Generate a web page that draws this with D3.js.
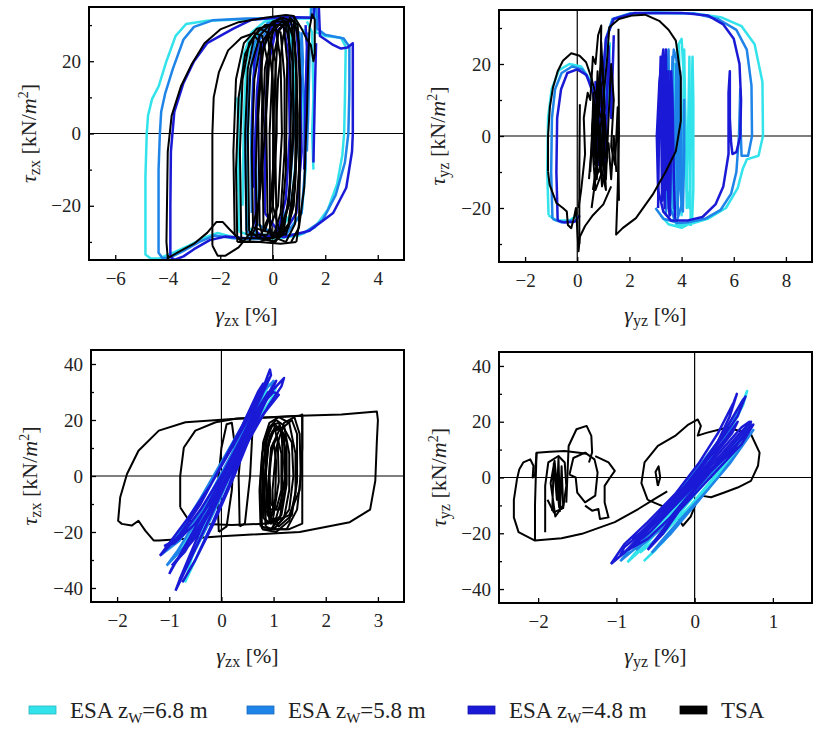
<!DOCTYPE html>
<html>
<head>
<meta charset="utf-8">
<script src="https://cdnjs.cloudflare.com/ajax/libs/d3/7.8.5/d3.min.js"></script>
<style>
  body { margin: 0; background: #fff; }
  text { font-family: "Liberation Serif", "Times New Roman", serif; }
</style>
</head>
<body>
<svg id="chart" width="815" height="732"></svg>
<script>
// ---------- data (strain %, stress kN/m2) ----------
var seriesNames = ["ESA 6.8", "ESA 5.8", "ESA 4.8", "TSA"];
var seriesColors = ["#33e3ec", "#1f84e8", "#1a1ad6", "#000000"];
var legendDepths = ["6.8", "5.8", "4.8"];

var xTicksTopZx = [-6, -4, -2, 0, 2, 4];
var xTicksTopYz = [-2, 0, 2, 4, 6, 8];
var xTicksBotZx = [-2, -1, 0, 1, 2, 3];
var xTicksBotYz = [-2, -1, 0, 1];
var yTicksTop = [-30, -20, -10, 0, 10, 20, 30];
var yTicksBot = [-40, -30, -20, -10, 0, 10, 20, 30, 40];

// top left: tau_zx vs gamma_zx
var topZxCyan = [
  [[0.2,-29],[1.0,-28.2],[1.6,-26],[2.1,-21],[2.45,-14],[2.65,-6],[2.72,0],[2.75,10],[2.78,24],[2.6,26.5],[2.0,27],[1.65,28],[1.6,36],[1.45,36],[1.45,31.8],[0.5,31.8],[-1,31.6],[-2.5,31.2],[-3.3,30.3],[-3.7,27],[-4.05,20],[-4.35,13],[-4.6,9.5],[-4.75,5],[-4.8,0],[-4.85,-12],[-4.85,-33.5],[-4.65,-34.6],[-4.3,-34.5],[-3.8,-33],[-3.2,-31],[-2.6,-28.8],[-2.1,-27.5],[-1.6,-28.5],[-1,-29.2],[0.2,-29]],
  [[-1.3,-27],[-1.3,-10],[-1.25,8],[-1.1,22],[-0.8,28],[-0.3,31],[0.3,31.5],[0.9,31],[1.1,20],[1.2,0],[1.25,-10],[1.1,-22],[0.6,-27],[-0.2,-28.5],[-0.8,-28.5],[-1.3,-27]],
  [[-0.95,-26],[-0.95,-5],[-0.9,15],[-0.6,27],[0,31],[0.6,31],[0.8,20],[0.9,-5],[0.7,-22],[0.2,-28],[-0.5,-28],[-0.95,-26]],
  [[1.55,-10],[1.5,0],[1.55,10],[1.5,28],[1.3,31]],
  [[-1.35,-16],[-1.3,0],[-1.35,10]],
  [[1.25,-5],[1.3,10],[1.35,24],[1.2,29]],
  [[-1.15,-20],[-1.1,5],[-1.0,20],[-0.75,27]]
];
var topZxMid = [
  [[0.2,-28.5],[1.2,-27.5],[1.9,-24],[2.4,-17],[2.75,-8],[2.88,0],[2.92,12],[2.92,24],[2.7,26.3],[2.0,27.3],[1.7,29],[1.65,36],[1.5,36],[1.45,32],[0.5,32],[-1,31.8],[-2.3,31.3],[-3.0,29.5],[-3.4,26],[-3.8,18],[-4.1,11],[-4.25,6],[-4.3,0],[-4.35,-10],[-4.35,-33],[-4.2,-34.5],[-3.9,-34.3],[-3.4,-32.5],[-2.8,-30],[-2.2,-28.2],[-1.5,-29],[-0.5,-29.2],[0.2,-28.5]],
  [[-1.0,-27],[-1.05,-5],[-0.95,12],[-0.7,25],[-0.2,30.5],[0.5,31.5],[1.0,28],[1.2,10],[1.25,-8],[1.1,-22],[0.5,-28],[-0.4,-28.8],[-1.0,-27]],
  [[-0.6,-25],[-0.65,0],[-0.5,20],[-0.1,29],[0.5,31],[0.75,20],[0.8,0],[0.6,-20],[0.1,-28],[-0.6,-25]],
  [[1.3,-5],[1.35,5],[1.4,22],[1.35,28]],
  [[-0.8,-22],[-0.82,0],[-0.75,15],[-0.5,26],[0,30]],
  [[1.0,-15],[1.05,5],[1.15,20],[1.1,28]]
];
var topZxDark = [
  [[0.2,-28],[0.4,-28.7],[1.4,-26.9],[2.3,-22],[2.8,-15],[3.02,-5],[3.05,0],[3.05,25],[2.85,23.8],[2.6,23.5],[2.3,24.5],[2.0,26],[1.8,27],[1.75,36],[1.6,36],[1.55,32],[0.5,32.2],[-0.8,31.5],[-1.5,29],[-2.5,25],[-3.0,20],[-3.4,14],[-3.75,6],[-3.88,-5],[-3.9,-20],[-3.9,-34],[-3.75,-35],[-3.4,-34],[-3.0,-32],[-2.4,-29.5],[-1.8,-28.5],[-1,-29],[0.2,-28]],
  [[-0.65,-27],[-0.68,-5],[-0.6,12],[-0.4,25],[0,30],[0.5,31.5],[0.9,29],[1.05,15],[1.1,-5],[0.9,-22],[0.4,-28],[-0.3,-29],[-0.65,-27]],
  [[-0.3,-22],[-0.3,0],[-0.2,18],[0.1,28],[0.4,30],[0.6,22],[0.65,0],[0.5,-18],[0.2,-27],[-0.3,-22]],
  [[1.55,-8],[1.6,10],[1.65,25]],
  [[-0.75,-15],[-0.78,5],[-0.7,20],[-0.5,27]],
  [[1.2,-10],[1.25,10],[1.3,24],[1.25,30]]
];
var topZxTsa = [
  [[0.9,-30],[0.3,-30.5],[-0.5,-30],[-1.2,-29.8],[-1.65,-26.5],[-1.9,-24.5],[-2.15,-24.5],[-2.5,-27.5],[-3.0,-30.5],[-3.6,-32.8],[-4.0,-34.5],[-4.05,-30],[-4.0,-5],[-3.85,5],[-3.5,13],[-3.1,19],[-2.6,25],[-2.0,28.8],[-1.3,30.8],[-0.3,32],[0.5,32.8],[0.8,32.5],[1.0,25],[1.05,0],[1.0,-25],[0.9,-30]],
  [[-2.3,-31],[-2.3,0],[-2.25,10],[-2.05,17],[-1.7,23],[-1.2,26.5],[-0.7,27.8],[-0.4,27],[-0.2,20],[-0.3,0],[-0.5,-18],[-0.8,-27],[-1.3,-31.5],[-1.8,-33.8],[-2.1,-33.8],[-2.3,-31]],
  [[-1.45,-28],[-1.5,-5],[-1.4,15],[-1.1,25],[-0.6,29],[0,30],[0.5,30],[0.75,20],[0.8,0],[0.6,-20],[0.2,-28],[-0.5,-30],[-1.1,-30],[-1.45,-28]],
  [[-0.9,-27],[-0.95,0],[-0.85,18],[-0.5,27],[0,31],[0.4,32],[0.8,31],[0.9,15],[0.85,-10],[0.6,-25],[0.1,-30],[-0.5,-29],[-0.9,-27]],
  [[-0.5,-25],[-0.55,5],[-0.4,22],[-0.1,30],[0.3,32],[0.6,30],[0.7,10],[0.65,-15],[0.4,-28],[0,-30],[-0.4,-28],[-0.5,-25]],
  [[-0.2,-22],[-0.25,5],[-0.1,25],[0.1,31],[0.4,31],[0.55,20],[0.5,-10],[0.3,-28],[0,-29],[-0.2,-22]],
  [[0.0,-20],[0.05,10],[0.2,28],[0.5,31],[0.75,28],[0.8,5],[0.6,-20],[0.3,-28],[0.0,-20]],
  [[-0.75,-26],[-0.8,-5],[-0.7,15],[-0.45,25],[-0.15,28],[0.1,20],[0.15,0],[0,-20],[-0.3,-27],[-0.75,-26]],
  [[-1.2,-29],[-1.25,-5],[-1.15,15],[-0.9,25],[-0.5,29],[-0.2,28],[0,15],[0.05,-5],[-0.1,-22],[-0.5,-29],[-1.2,-29]],
  [[-1.0,-28],[-1.05,0],[-0.95,18],[-0.7,27],[-0.3,30],[0.1,30],[0.3,20],[0.35,0],[0.2,-20],[-0.2,-28],[-1.0,-28]],
  [[-0.35,-27],[-0.4,-2],[-0.3,18],[0,28],[0.35,31],[0.7,31],[0.9,20],[0.95,0],[0.8,-20],[0.5,-28],[-0.35,-27]],
  [[-0.1,-28],[-0.12,0],[0,20],[0.25,29],[0.55,31],[0.85,25],[0.95,5],[0.85,-15],[0.6,-26],[0.2,-29],[-0.1,-28]],
  [[-0.6,-29],[-0.65,-10],[-0.55,10],[-0.35,24],[0,29],[0.3,28],[0.45,15],[0.45,-5],[0.3,-22],[0,-29],[-0.6,-29]],
  [[0.15,-29],[0.1,-5],[0.2,15],[0.4,27],[0.65,32],[0.95,30],[1.05,15],[1.0,-10],[0.85,-25],[0.5,-30],[0.15,-29]],
  [[-1.35,-30],[-1.4,-10],[-1.3,10],[-1.05,22],[-0.7,27],[-0.45,25],[-0.4,10],[-0.45,-10],[-0.6,-25],[-0.9,-30],[-1.35,-30]],
  [[0.8,32.5],[1.1,29],[1.3,26],[1.45,24.5],[1.55,20],[1.6,22],[1.6,31.5],[1.5,33],[1.4,29],[1.35,20],[1.3,5],[1.25,-3.8],[1.2,-15],[1.0,-26],[0.7,-30]]
];

// top right: tau_yz vs gamma_yz
var topYzCyan = [
  [[-1.1,-22],[-1.15,-10],[-1.12,5],[-0.98,13],[-0.7,18.3],[-0.3,20],[0.15,19.3],[0.5,15.5],[0.7,10],[0.8,0],[0.85,-8],[0.95,5],[1.05,20],[1.15,28],[1.4,32.5],[2,34],[3,34.3],[4.5,34],[5.5,33],[6.3,30.5],[6.8,25.5],[7.1,15],[7.12,0],[6.95,-5.5],[6.5,-6.5],[6.35,-9],[6.15,-14.5],[5.7,-20],[5.0,-23],[4.3,-24.5],[3.8,-24.8],[3.65,-20],[3.6,-5],[3.7,10],[3.85,25],[4.0,27],[4.1,15],[4.15,0],[4.2,-15],[4.3,-20],[4.35,-5],[4.4,15],[4.42,22],[4.45,10],[4.45,-15],[4.4,-24],[4.0,-25.5],[3.5,-24.5],[3.2,-22]],
  [[-1.1,-22],[-0.8,-23.5],[-0.3,-23.5],[0,-22]],
  [[3.7,-24],[3.75,20],[3.8,-20],[3.9,25],[4.0,-22],[4.1,24],[4.2,-20],[4.3,22],[4.35,-25]],
  [[0.7,-5],[0.8,12],[0.9,-3],[1.05,18],[1.15,5],[1.25,26]]
];
var topYzMid = [
  [[-0.95,-23],[-1.0,-10],[-0.97,5],[-0.85,13],[-0.6,17.5],[-0.2,19.3],[0.2,18.5],[0.5,15],[0.7,9],[0.8,-2],[0.9,6],[1.0,18],[1.1,27],[1.35,32.5],[2,34],[3,34.2],[4.5,34],[5.4,32.5],[6.1,29.5],[6.5,24],[6.68,14],[6.7,0],[6.55,-5.5],[6.3,-5.5],[6.25,5],[6.25,13],[6.2,0],[6.1,-10],[5.9,-16],[5.5,-20.5],[4.9,-23],[4.2,-24],[3.8,-24.2],[3.55,-20],[3.5,-5],[3.6,10],[3.7,24],[3.85,20],[3.9,0],[3.95,-15],[4.05,-21],[4.1,-5],[4.1,10],[4.05,-18],[3.8,-24],[3.3,-23],[3.0,-20]],
  [[-0.95,-23],[-0.6,-24],[-0.2,-23.5]],
  [[3.4,-22],[3.45,15],[3.5,24],[3.55,-18],[3.65,22],[3.7,-20],[3.8,20],[3.85,-22],[3.95,18],[4.0,-20]],
  [[0.65,-8],[0.75,10],[0.85,-5],[1.0,20],[1.1,2],[1.2,24]]
];
var topYzDark = [
  [[-0.75,-23.5],[-0.8,-10],[-0.77,5],[-0.62,13],[-0.38,17.5],[0,18.5],[0.35,17],[0.6,12],[0.75,5],[0.85,-5],[0.9,5],[1.0,17],[1.1,27],[1.4,32.5],[2.2,34.2],[4,34.2],[5,33.5],[5.6,31],[6.0,27],[6.22,20],[6.28,10],[6.25,0],[6.1,-4.5],[5.95,-5],[5.9,-2],[5.85,5],[5.85,18],[5.8,12],[5.8,-5],[5.6,-14],[5.3,-19],[4.8,-22.5],[4.2,-23.5],[3.6,-23.5],[3.3,-21],[3.1,-15],[3.05,0],[3.15,15],[3.3,24],[3.4,15],[3.45,-5],[3.5,-20],[3.55,-22],[3.6,0],[3.6,18],[3.65,10],[3.7,-10],[3.75,-23]],
  [[-0.75,-23.5],[-0.5,-24],[-0.1,-23.8],[0.1,-22]],
  [[3.1,-20],[3.15,10],[3.2,22],[3.25,-18],[3.3,20],[3.35,-20],[3.4,24],[3.45,-15],[3.5,18],[3.55,-22],[3.6,15]],
  [[0.6,-5],[0.7,15],[0.8,-8],[0.95,20],[1.05,-10],[1.2,25],[1.3,5],[1.4,28]]
];
var topYzTsa = [
  [[0.6,-15],[0.8,-5],[1.0,10],[1.15,22],[1.23,30.2],[1.6,32.5],[2.12,33.5],[2.6,33.7],[3.14,32],[3.5,29.5],[3.78,26.5],[3.97,16.3],[3.97,4.2],[3.78,-4.2],[3.4,-9.8],[2.89,-16.3],[2.25,-22.8],[1.74,-25.6],[1.49,-27.4],[1.55,-15],[1.6,0],[1.58,29.8]],
  [[-1.12,-9.8],[-1.12,0],[-1.05,8],[-0.93,13.5],[-0.75,18],[-0.55,20.9],[-0.23,23],[0.09,22.3],[0.34,20.5],[0.55,16],[0.75,10],[0.9,5]],
  [[-1.12,-9.8],[-1.06,-13.5],[-0.8,-18.6],[-0.55,-20],[-0.4,-21],[-0.36,-24.7],[-0.23,-25.6],[-0.12,-22.5],[-0.05,-20],[0.05,-32],[0.1,-28],[0.3,-25],[0.6,-22],[1.0,-19],[1.3,-14]],
  [[0.05,-20],[0.15,-15],[0.3,-5],[0.25,5],[0.4,12],[0.5,10],[0.6,22],[0.7,20],[0.8,28],[0.92,30.7],[0.9,20],[0.8,5],[0.95,-10],[0.7,-15],[0.6,-5],[0.75,10],[0.9,15],[1.0,0],[1.1,-15],[0.9,-8],[0.7,-12],[0.55,-20]],
  [[0.5,-10],[0.6,5],[0.7,-8],[0.8,12],[0.95,22],[1.05,8],[0.9,-5],[1.1,-12],[1.2,5],[1.3,20],[1.4,10],[1.3,-3],[1.45,-8],[1.55,8],[1.6,-18]],
  [[0.7,-2],[0.75,-12],[0.85,3],[1.0,-8],[1.05,6],[1.15,-6],[0.95,-14],[0.85,-4],[0.65,-8]],
  [[0.55,0],[0.65,8],[0.72,-4],[0.8,6],[0.88,-10],[0.98,2],[1.08,-6],[1.2,-2],[1.3,-12],[1.4,0],[1.5,-10]],
  [[0.45,-12],[0.55,-3],[0.62,12],[0.7,3],[0.78,18],[0.85,8],[0.92,26],[1.0,14]],
  [[0.08,-30],[0.08,-10],[0.1,8.8]]
];

// bottom left: tau_zx vs gamma_zx
var botZxCyan = [
  [[-0.7,-38],[-0.55,-32],[-0.3,-22],[0,-10],[0.3,4],[0.6,18],[0.8,28],[0.9,33],[0.85,30],[0.6,20],[0.3,8],[0,-5],[-0.3,-17],[-0.55,-28],[-0.7,-38]],
  [[-0.95,-30],[-0.7,-24],[-0.4,-14],[0,0],[0.35,12],[0.7,24],[1.05,32],[1.0,29],[0.7,20],[0.35,8],[0,-4],[-0.4,-17],[-0.75,-26],[-0.95,-30]]
];
var botZxMid = [
  [[-1.05,-32],[-0.85,-27],[-0.55,-18],[-0.2,-6],[0.2,8],[0.5,20],[0.8,30],[1.0,34],[0.95,31],[0.7,23],[0.4,12],[0,-2],[-0.35,-14],[-0.7,-25],[-1.05,-32]],
  [[-0.8,-37],[-0.6,-30],[-0.3,-19],[0,-7],[0.3,6],[0.6,20],[0.85,32],[0.8,30],[0.5,17],[0.2,3],[-0.1,-10],[-0.45,-24],[-0.8,-37]],
  [[-1.15,-28],[-0.8,-20],[-0.4,-8],[0,5],[0.4,18],[0.75,30],[0.9,35],[0.8,31],[0.45,17],[0.05,2],[-0.35,-11],[-0.8,-23],[-1.15,-28]]
];
var botZxDark = [
  [[-0.88,-41],[-0.75,-36],[-0.5,-26],[-0.2,-14],[0.1,-2],[0.4,12],[0.65,25],[0.85,34],[0.93,38],[0.95,36],[0.8,30],[0.6,22],[0.3,10],[0,-2],[-0.3,-15],[-0.6,-28],[-0.8,-37],[-0.88,-41]],
  [[-1.0,-35],[-0.85,-30],[-0.55,-20],[-0.2,-8],[0.2,6],[0.55,18],[0.85,28],[1.1,33],[1.2,35],[1.15,32],[0.9,25],[0.5,12],[0.1,-2],[-0.3,-14],[-0.7,-26],[-0.95,-33],[-1.0,-35]],
  [[-1.18,-28.5],[-1.0,-24],[-0.6,-14],[-0.2,-3],[0.2,10],[0.5,20],[0.75,30],[0.8,33],[0.7,30],[0.4,18],[0,4],[-0.4,-10],[-0.8,-21],[-1.1,-27],[-1.18,-28.5]],
  [[-1.1,-25],[-0.8,-22],[-0.4,-12],[0,0],[0.4,14],[0.7,24],[1.0,30],[1.1,29],[0.8,22],[0.4,10],[0,-4],[-0.5,-17],[-0.9,-24],[-1.1,-25]],
  [[-0.75,-38],[-0.5,-30],[-0.2,-18],[0.15,-3],[0.45,12],[0.7,24],[0.9,30],[0.85,27],[0.55,14],[0.2,-2],[-0.15,-17],[-0.5,-30],[-0.75,-38]],
  [[-0.95,-32],[-0.7,-27],[-0.35,-16],[0.05,-2],[0.35,10],[0.65,22],[1.05,34],[0.95,30],[0.6,18],[0.25,5],[-0.1,-9],[-0.5,-22],[-0.95,-32]]
];
var botZxTsa = [
  [[0.0,-21.5],[-0.6,-22.3],[-1.2,-23],[-1.3,-23],[-1.46,-19.5],[-1.59,-16],[-1.72,-17.7],[-1.91,-17.1],[-1.98,-16],[-1.94,-7.6],[-1.81,0.7],[-1.59,9],[-1.2,16.2],[-0.69,19.2],[0.21,20.4],[1.5,21.5],[2.3,22],[2.98,23],[3.0,20],[2.98,12.6],[2.95,-1.7],[2.85,-12],[2.46,-16.5],[1.5,-20],[0.0,-21.5]],
  [[-0.79,-11.2],[-0.79,0],[-0.72,10.2],[-0.5,16.2],[-0.11,19.2],[0.3,20.5],[1.0,21],[1.55,21.5],[1.55,10],[1.5,-5],[1.3,-14],[0.9,-17],[0.2,-17.5],[-0.3,-17.1],[-0.62,-16],[-0.79,-11.2]],
  [[-0.05,-20],[-0.08,-5],[0,10],[0.1,18.5],[0.2,19],[0.25,12],[0.2,-5],[0.1,-18],[-0.05,-20]],
  [[0.35,-18],[0.33,0],[0.4,15],[0.5,20],[0.6,18],[0.55,0],[0.45,-17],[0.35,-18]],
  [[0.75,-18],[0.73,-5],[0.78,8],[0.9,17],[1.05,20],[1.2,18],[1.3,8],[1.3,-5],[1.2,-15],[1.0,-19],[0.75,-18]],
  [[0.8,-15],[0.78,0],[0.85,12],[0.95,18],[1.1,19],[1.25,12],[1.25,-3],[1.15,-14],[0.95,-17],[0.8,-15]],
  [[0.9,-12],[0.85,2],[0.92,14],[1.05,18],[1.2,15],[1.22,0],[1.12,-12],[0.9,-12]],
  [[0.95,-16],[0.9,-3],[0.95,10],[1.1,16],[1.35,20],[1.45,15],[1.45,-2],[1.35,-14],[1.1,-18],[0.95,-16]],
  [[0.85,-17],[0.82,-3],[0.88,10],[1.0,16],[1.15,17],[1.18,5],[1.15,-8],[1.05,-15],[0.85,-17]],
  [[0.78,-19],[0.75,-2],[0.8,12],[0.92,19],[1.1,21],[1.3,19],[1.42,8],[1.42,-6],[1.3,-16],[1.05,-20],[0.78,-19]],
  [[0.85,-18],[0.82,-6],[0.86,8],[0.98,16],[1.12,18],[1.22,10],[1.22,-4],[1.12,-15],[0.95,-19],[0.85,-18]],
  [[0.95,-10],[0.92,0],[0.97,10],[1.07,14],[1.15,8],[1.15,-5],[1.05,-12],[0.95,-10]],
  [[0.88,-14],[0.85,0],[0.9,12],[1.02,17],[1.2,17],[1.35,12],[1.38,0],[1.3,-12],[1.1,-17],[0.88,-14]],
  [[1.0,-19],[0.98,-5],[1.05,10],[1.2,19],[1.4,21],[1.5,15],[1.52,0],[1.45,-12],[1.25,-19],[1.0,-19]],
  [[0.8,-12],[0.8,3],[0.88,14],[1.0,19],[1.08,12],[1.1,-2],[1.0,-14],[0.8,-12]],
  [[0.92,-17],[0.9,-8],[0.93,5],[1.0,12],[1.05,5],[1.03,-8],[0.92,-17]],
  [[0.8,-19],[1.3,-19],[1.55,-17],[1.55,22],[1.5,21.5]]
];

// bottom right: tau_yz vs gamma_yz
var botYzCyan = [
  [[-0.86,-30.4],[-0.65,-25],[-0.35,-15],[0,-3],[0.3,10],[0.55,22],[0.67,31],[0.62,26],[0.4,14],[0.1,2],[-0.2,-9],[-0.55,-20],[-0.86,-30.4]],
  [[-0.7,-27],[-0.4,-20],[-0.05,-8],[0.3,4],[0.6,14],[0.72,18],[0.65,14],[0.3,2],[-0.05,-10],[-0.4,-20],[-0.7,-27]],
  [[-0.65,-30],[-0.4,-23],[-0.1,-12],[0.2,-2],[0.5,8],[0.7,16],[0.65,14],[0.4,4],[0.1,-6],[-0.2,-16],[-0.5,-26],[-0.65,-30]]
];
var botYzMid = [
  [[-0.95,-30],[-0.7,-24],[-0.4,-14],[-0.05,-3],[0.3,10],[0.5,20],[0.62,28],[0.55,24],[0.3,13],[0,2],[-0.35,-10],[-0.7,-21],[-0.95,-30]],
  [[-0.75,-26],[-0.45,-19],[-0.1,-7],[0.25,4],[0.55,13],[0.72,19],[0.65,15],[0.35,6],[0,-5],[-0.35,-16],[-0.75,-26]],
  [[-0.55,-27],[-0.3,-20],[0,-10],[0.3,0],[0.55,9],[0.75,17],[0.7,15],[0.45,5],[0.15,-5],[-0.15,-14],[-0.4,-22],[-0.55,-27]]
];
var botYzDark = [
  [[-1.07,-31],[-0.9,-27],[-0.6,-18],[-0.3,-8],[0,0],[0.25,10],[0.45,22],[0.54,30],[0.5,27],[0.3,16],[0.05,5],[-0.25,-6],[-0.6,-16],[-0.9,-24],[-1.07,-31]],
  [[-0.95,-28],[-0.7,-22],[-0.35,-12],[0,-2],[0.3,7],[0.55,15],[0.72,20],[0.68,16],[0.4,8],[0.1,0],[-0.25,-10],[-0.6,-18],[-0.9,-25],[-0.95,-28]],
  [[-0.8,-22],[-0.5,-16],[-0.2,-6],[0.1,5],[0.35,15],[0.6,27],[0.65,29],[0.55,22],[0.25,10],[-0.05,-2],[-0.35,-12],[-0.65,-20],[-0.8,-22]],
  [[-0.6,-26],[-0.4,-20],[-0.1,-8],[0.2,2],[0.5,10],[0.7,18],[0.75,19],[0.6,12],[0.3,3],[0,-6],[-0.3,-15],[-0.55,-24],[-0.6,-26]],
  [[-0.85,-26],[-0.55,-19],[-0.25,-10],[0.05,0],[0.35,10],[0.6,18],[0.7,20],[0.62,16],[0.3,6],[0,-4],[-0.3,-14],[-0.6,-22],[-0.85,-26]],
  [[-0.7,-20],[-0.45,-13],[-0.15,-4],[0.15,6],[0.4,14],[0.55,20],[0.48,16],[0.2,6],[-0.1,-4],[-0.4,-14],[-0.7,-20]]
];
var botYzTsa = [
  // outer left lobe and the long tail towards the origin
  [[-2.27,-0.6],[-2.31,-8],[-2.31,-14.3],[-2.25,-19.6],[-2.04,-22.6],[-1.7,-21.8],[-1.44,-20.2],[-1.02,-16],[-0.72,-11.3],[-0.51,-7.7],[-0.35,-5]],
  [[-2.27,-0.6],[-2.24,3],[-2.19,5.4],[-2.1,6.5],[-2.06,4.2],[-2.07,0],[-2.04,1],[-2.02,8.9],[-1.85,9.2],[-1.66,9.5],[-1.5,9],[-1.38,8.5]],
  [[-2.04,-22.6],[-2.04,-10],[-2.03,0],[-2.02,8.9]],
  [[-1.91,-19.6],[-1.91,-3],[-1.87,5.4],[-1.74,7.7],[-1.66,5.4],[-1.64,-3],[-1.68,-11],[-1.8,-12.5],[-1.88,-8]],
  [[-1.64,-9],[-1.61,11.3],[-1.51,17.3],[-1.38,18.5],[-1.32,14.9],[-1.31,9],[-1.35,5.4]],
  [[-1.6,1],[-1.55,7],[-1.4,8.9],[-1.28,6.5],[-1.24,1.8],[-1.27,-6.5],[-1.4,-8.9],[-1.5,-5.4],[-1.52,0],[-1.6,1]],
  [[-1.27,7.7],[-1.1,5.4],[-1.02,2.4],[-1.08,0],[-1.15,-3],[-1.15,-9],[-1.1,-14.3],[-1.21,-14.9],[-1.23,-11.3],[-1.31,-11.9],[-1.4,-10.1]],
  [[-1.82,-12],[-1.8,5],[-1.76,-8],[-1.74,7],[-1.72,-12],[-1.7,4],[-1.68,-10],[-1.78,-14],[-1.84,-2],[-1.79,6],[-1.73,-11]],
  // loop near the origin
  [[-0.6,-8],[-0.68,-2],[-0.64,5.4],[-0.47,11.3],[-0.25,14.9],[-0.08,19],[0.04,20.8],[0.08,18.5],[0.04,15],[0.15,16],[0.42,17.9],[0.72,15.5],[0.83,8.9],[0.81,4.2],[0.72,-1.2],[0.55,-3.6],[0.38,-5.4],[0.21,-7.1],[0.08,-6.5],[0.02,-9],[-0.05,-14],[-0.15,-17.3],[-0.2,-15],[-0.35,-11],[-0.6,-8]],
  [[-0.47,-3],[-0.5,2],[-0.46,4],[-0.44,0],[-0.47,-3]]
];

// ---------- layout ----------
var svg = d3.select("#chart");

var panels = [
  {box: {left: 89, right: 404, top: 7, bottom: 260}, xd: [-7, 5], yd: [-35, 35], xt: xTicksTopZx, yt: yTicksTop,
   data: [topZxCyan, topZxMid, topZxDark, topZxTsa], order: [0, 1, 2, 3], sub: "zx", labX: 36, xlabY: 322},
  {box: {left: 499, right: 812, top: 10, bottom: 262}, xd: [-3, 9], yd: [-35, 35], xt: xTicksTopYz, yt: yTicksTop,
   data: [topYzCyan, topYzMid, topYzDark, topYzTsa], order: [0, 1, 2, 3], sub: "yz", labX: 445, xlabY: 322},
  {box: {left: 91, right: 404, top: 350, bottom: 602}, xd: [-2.5, 3.5], yd: [-45, 45], xt: xTicksBotZx, yt: yTicksBot,
   data: [botZxCyan, botZxMid, botZxDark, botZxTsa], order: [3, 0, 1, 2], sub: "zx", labX: 37, xlabY: 663},
  {box: {left: 499, right: 812, top: 352, bottom: 603}, xd: [-2.5, 1.5], yd: [-45, 45], xt: xTicksBotYz, yt: yTicksBot,
   data: [botYzCyan, botYzMid, botYzDark, botYzTsa], order: [3, 0, 1, 2], sub: "yz", labX: 446, xlabY: 663}
];

var fmt = d3.format("d");

panels.forEach(function(p, pi) {
  var b = p.box;
  var x = d3.scaleLinear().domain(p.xd).range([b.left, b.right]);
  var y = d3.scaleLinear().domain(p.yd).range([b.bottom, b.top]);

  svg.append("clipPath").attr("id", "clip" + pi)
    .append("rect")
    .attr("x", b.left).attr("y", b.top)
    .attr("width", b.right - b.left).attr("height", b.bottom - b.top);

  var g = svg.append("g").attr("clip-path", "url(#clip" + pi + ")");

  // zero lines
  g.append("line").attr("x1", b.left).attr("x2", b.right)
    .attr("y1", y(0)).attr("y2", y(0)).attr("stroke", "#000").attr("stroke-width", 1.2);
  g.append("line").attr("x1", x(0)).attr("x2", x(0))
    .attr("y1", b.top).attr("y2", b.bottom).attr("stroke", "#000").attr("stroke-width", 1.2);

  var line = d3.line().x(function(d) { return x(d[0]); }).y(function(d) { return y(d[1]); });

  p.order.forEach(function(si) {
    g.selectAll("path.s" + si)
      .data(p.data[si])
      .enter()
      .append("path")
      .attr("class", "s" + si)
      .attr("d", line)
      .attr("fill", "none")
      .attr("stroke", seriesColors[si])
      .attr("stroke-width", si === 3 ? 2 : 2.5)
      .attr("stroke-linejoin", "round");
  });

  // frame
  svg.append("rect")
    .attr("x", b.left).attr("y", b.top)
    .attr("width", b.right - b.left).attr("height", b.bottom - b.top)
    .attr("fill", "none").attr("stroke", "#000").attr("stroke-width", 2);

  // axes with inward ticks
  var ax = svg.append("g")
    .attr("transform", "translate(0," + b.bottom + ")")
    .call(d3.axisBottom(x).tickValues(p.xt).tickSize(-5).tickPadding(12).tickFormat(fmt));
  ax.select(".domain").remove();

  var ay = svg.append("g")
    .attr("transform", "translate(" + b.left + ",0)")
    .call(d3.axisLeft(y).tickValues(p.yt).tickSize(-5).tickPadding(8)
      .tickFormat(function(d) { return d % 20 === 0 ? fmt(d) : ""; }));
  ay.select(".domain").remove();
  ay.selectAll(".tick line").filter(function(d) { return d % 20 !== 0; }).attr("x2", 3);

  [ax, ay].forEach(function(a) {
    a.attr("font-family", null);
    a.selectAll("text").attr("font-size", 19).attr("fill", "#222");
    a.selectAll(".tick line").attr("stroke", "#000").attr("stroke-width", 1.3);
  });

  // x label
  var xl = svg.append("text")
    .attr("x", (b.left + b.right) / 2).attr("y", p.xlabY)
    .attr("text-anchor", "middle").attr("font-size", 22).attr("fill", "#222");
  xl.append("tspan").attr("font-style", "italic").text("γ");
  xl.append("tspan").attr("font-size", 16).attr("dy", 4).text(p.sub);
  xl.append("tspan").attr("dy", -4).text(" [%]");

  // y label
  var yc = (b.top + b.bottom) / 2;
  var yl = svg.append("text")
    .attr("transform", "translate(" + p.labX + "," + yc + ") rotate(-90)")
    .attr("text-anchor", "middle").attr("font-size", 22).attr("fill", "#222");
  yl.append("tspan").attr("font-style", "italic").text("τ");
  yl.append("tspan").attr("font-size", 16).attr("dy", 4).text(p.sub);
  yl.append("tspan").attr("dy", -4).text(" [kN/");
  yl.append("tspan").attr("font-style", "italic").text("m");
  yl.append("tspan").attr("font-size", 14).attr("dy", -8).text("2");
  yl.append("tspan").attr("dy", 8).text("]");
});

// ---------- legend ----------
var legendX = [29, 247, 468, 680];
var legend = svg.append("g");
seriesNames.forEach(function(name, i) {
  legend.append("rect")
    .attr("x", legendX[i]).attr("y", 706)
    .attr("width", 27).attr("height", 8)
    .attr("fill", seriesColors[i]).attr("stroke", d3.color(seriesColors[i]).darker(0.6)).attr("stroke-width", 0.8);
  var t = legend.append("text")
    .attr("x", legendX[i] + 41).attr("y", 718)
    .attr("font-size", 23).attr("fill", "#222");
  if (i < 3) {
    t.append("tspan").text("ESA z");
    t.append("tspan").attr("font-size", 15).attr("dy", 5).text("W");
    t.append("tspan").attr("dy", -5).text("=" + legendDepths[i] + " m");
  } else {
    t.text("TSA");
  }
});
</script>
</body>
</html>
